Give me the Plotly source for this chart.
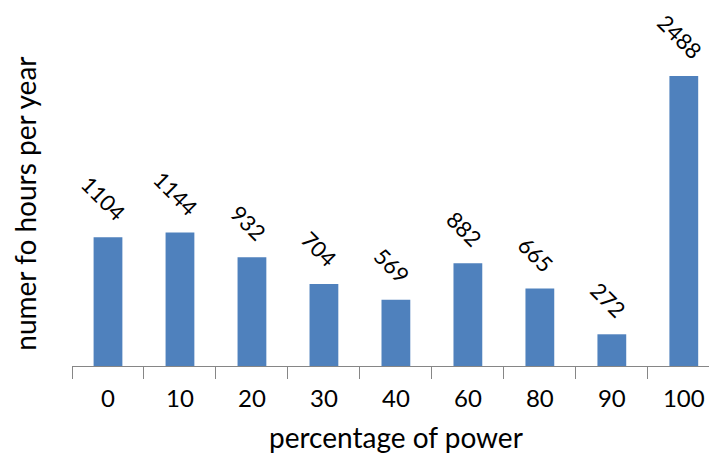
import plotly.graph_objects as go

# Share of rated power (category labels) and hours per year at that level
power_pct = ["0", "10", "20", "30", "40", "60", "80", "90", "100"]
hours_per_year = [1104, 1144, 932, 704, 569, 882, 665, 272, 2488]

x_title = "percentage of power"
y_title = "numer fo hours per year"

BAR_COLOR = "#4F81BD"
AXIS_COLOR = "#868686"
FONT = "Lato, 'Open Sans', sans-serif"

fig = go.Figure(
    go.Bar(
        x=power_pct,
        y=hours_per_year,
        marker=dict(color=BAR_COLOR, line=dict(width=0)),
        width=0.4,
        hoverinfo="x+y",
    )
)

# Rotated value labels just above each bar (x given as category index)
for i, val in enumerate(hours_per_year):
    fig.add_annotation(
        x=i,
        y=val,
        xref="x",
        yref="y",
        text=str(val),
        showarrow=False,
        textangle=45,
        xanchor="center",
        yanchor="bottom",
        xshift=-4,
        yshift=10,
        borderpad=0,
        font=dict(family=FONT, size=22, color="#000000"),
    )

# Axis titles
fig.add_annotation(
    x=0.5086, y=-0.193, xref="paper", yref="paper",
    text=x_title, showarrow=False, xanchor="center", yanchor="middle",
    font=dict(family=FONT, size=28, color="#000000"),
)
fig.add_annotation(
    x=-0.074, y=0.443, xref="paper", yref="paper",
    text=y_title, showarrow=False, textangle=-90, xanchor="center", yanchor="middle",
    font=dict(family=FONT, size=28, color="#000000"),
)

fig.update_layout(
    width=709,
    height=456,
    margin=dict(l=72, r=0, t=0, b=90),
    paper_bgcolor="white",
    plot_bgcolor="white",
    showlegend=False,
    font=dict(family=FONT, color="#000000"),
    xaxis=dict(
        type="category",
        range=[-0.5, 8.35],
        showline=True,
        linecolor=AXIS_COLOR,
        linewidth=1,
        ticks="outside",
        tickson="boundaries",
        ticklen=12,
        tickcolor=AXIS_COLOR,
        showgrid=False,
        ticklabelstandoff=11,
        tickfont=dict(family=FONT, size=24, color="#000000"),
    ),
    yaxis=dict(
        range=[0, 3139],
        showticklabels=False,
        showgrid=False,
        zeroline=False,
        showline=False,
        ticks="",
    ),
)

fig.write_html("out.html")
